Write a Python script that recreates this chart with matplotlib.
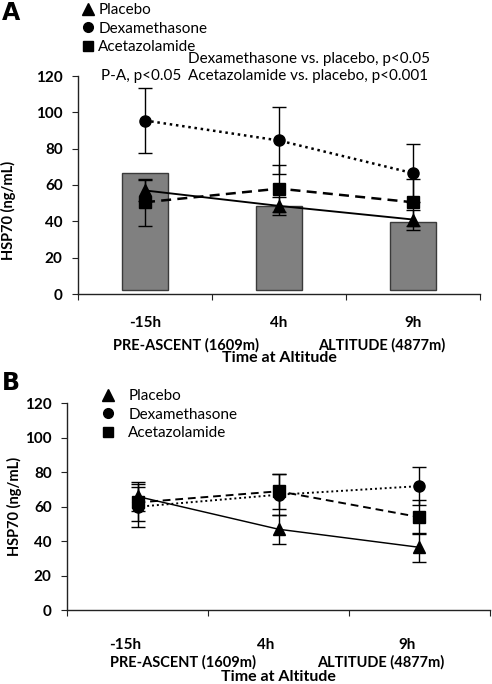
import matplotlib
matplotlib.use('Agg')
import matplotlib.pyplot as plt
from matplotlib.lines import Line2D

# time points
times = ['-15h', '4h', '9h']
x = [0, 1, 2]

# panel A values (ng/mL)
bar_a = [66.5, 48.5, 39.8]
placebo_a = [57, 48.5, 41]
placebo_a_err = [6, 5, 5.5]
dexa_a = [95.5, 84.5, 66.5]
dexa_a_err = [18, 18.5, 16]
aceta_a = [50.5, 58, 50.5]
aceta_a_err = [13, 13, 13]

# panel B values (ng/mL)
placebo_b = [66, 47, 36.5]
placebo_b_err = [8.5, 8.5, 8.3]
dexa_b = [60, 67, 72]
dexa_b_err = [11.5, 12, 11.2]
aceta_b = [62.5, 69, 54]
aceta_b_err = [11, 10, 10]

plt.rcParams['font.family'] = ['Lato', 'DejaVu Sans']

W, H = 492, 684
fig = plt.figure(figsize=(W / 100, H / 100), dpi=100)


def px(xp, yp):
    return xp / W, 1 - yp / H


def setup_axis(ax, label_shift, pad):
    ax.set_xlim(-0.5, 2.5)
    ax.set_ylim(0, 120)
    ax.set_yticks(range(0, 121, 20))
    ax.spines['top'].set_visible(False)
    ax.spines['right'].set_visible(False)
    for s in ['left', 'bottom']:
        ax.spines[s].set_color('#222222')
        ax.spines[s].set_linewidth(1)
    ax.set_xticks([-0.5, 0.5, 1.5, 2.5])
    ax.set_xticklabels([])
    ax.set_xticks([i + label_shift for i in x], minor=True)
    ax.set_xticklabels(times, minor=True, fontweight='bold', fontsize=11)
    ax.tick_params(axis='x', which='major', direction='out', length=4, color='#222222')
    ax.tick_params(axis='x', which='minor', length=0, pad=pad)
    ax.tick_params(axis='y', direction='out', length=4, pad=7, labelsize=11, color='#222222')
    for t in ax.get_yticklabels():
        t.set_fontweight('bold')


def draw_series(ax, placebo, p_err, dexa, d_err, aceta, a_err, lw):
    kw = dict(color='black', ecolor='black', elinewidth=1, capsize=5, capthick=1)
    ax.errorbar(x, dexa, yerr=d_err, marker='o', markersize=8, linestyle=(0, (1, 1.5)),
                linewidth=lw, **kw)
    ax.errorbar(x, aceta, yerr=a_err, marker='s', markersize=8, linestyle=(0, (4, 2.5)),
                linewidth=lw, **kw)
    ax.errorbar(x, placebo, yerr=p_err, marker='^', markersize=8, linestyle='-',
                linewidth=lw * 0.75, **kw)


handles = [
    Line2D([], [], marker='^', color='black', linestyle='none', markersize=8),
    Line2D([], [], marker='o', color='black', linestyle='none', markersize=7),
    Line2D([], [], marker='s', color='black', linestyle='none', markersize=7),
]
names = ['Placebo', 'Dexamethasone', 'Acetazolamide']

# ---------- panel A ----------
axA = fig.add_axes([78 / W, 1 - 294 / H, 402 / W, 218 / H])
axA.bar(x, [v - 2 for v in bar_a], bottom=2, width=0.35, color='#808080',
        edgecolor='#3a3a3a', linewidth=1, zorder=1)
draw_series(axA, placebo_a, placebo_a_err, dexa_a, dexa_a_err, aceta_a, aceta_a_err, 1.8)
setup_axis(axA, 0, 16)
fig.text(*px(8, 210), 'HSP70 (ng/mL)', fontweight='bold', fontsize=10.5, rotation=90,
         ha='center', va='center')

fig.text(*px(101, 76), 'P-A, p<0.05', fontsize=11, va='center')
fig.text(*px(188, 59), 'Dexamethasone vs. placebo, p<0.05', fontsize=11, va='center')
fig.text(*px(188, 76), 'Acetazolamide vs. placebo, p<0.001', fontsize=11, va='center')
fig.text(*px(186, 345), 'PRE-ASCENT (1609m)', fontsize=10.5, fontweight='bold', ha='center', va='center')
fig.text(*px(382, 345), 'ALTITUDE (4877m)', fontsize=10.5, fontweight='bold', ha='center', va='center')
fig.text(*px(279, 358), 'Time at Altitude', fontsize=11.5, fontweight='bold', ha='center', va='center')
fig.text(*px(2, 13), 'A', fontsize=17, fontweight='bold', family='DejaVu Sans', va='center')
fig.legend(handles, names, loc='upper left', bbox_to_anchor=px(80, 3), frameon=False,
           fontsize=11, handlelength=1, handletextpad=0.2, borderpad=0,
           labelspacing=0.3, borderaxespad=0)

# ---------- panel B ----------
axB = fig.add_axes([67 / W, 1 - 610.3 / H, 423 / W, 207 / H])
draw_series(axB, placebo_b, placebo_b_err, dexa_b, dexa_b_err, aceta_b, aceta_b_err, 1.4)
setup_axis(axB, -0.09, 20)
fig.text(*px(14, 506), 'HSP70 (ng/mL)', fontweight='bold', fontsize=10.5, rotation=90,
         ha='center', va='center')

fig.text(*px(183, 662), 'PRE-ASCENT (1609m)', fontsize=10.5, fontweight='bold', ha='center', va='center')
fig.text(*px(381, 662), 'ALTITUDE (4877m)', fontsize=10.5, fontweight='bold', ha='center', va='center')
fig.text(*px(278, 677), 'Time at Altitude', fontsize=11.5, fontweight='bold', ha='center', va='center')
fig.text(*px(2, 383), 'B', fontsize=17, fontweight='bold', family='DejaVu Sans', va='center')
fig.legend(handles, names, loc='upper left', bbox_to_anchor=px(100, 389), frameon=False,
           fontsize=11, handlelength=1, handletextpad=0.85, borderpad=0,
           labelspacing=0.3, borderaxespad=0)

fig.savefig('out.png', dpi=100)
